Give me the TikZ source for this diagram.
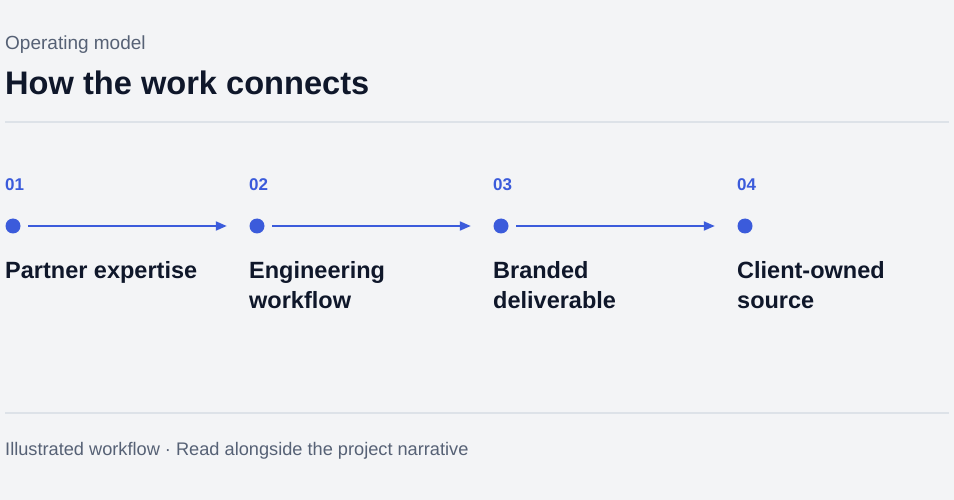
\documentclass[tikz,border=0pt]{standalone}
\usepackage{fontspec}
\setmainfont{Liberation Sans}
\usetikzlibrary{arrows.meta, positioning}
\definecolor{pagebg}{HTML}{F3F4F6}
\definecolor{rulegray}{HTML}{DDE2E8}
\definecolor{ink}{HTML}{0F172A}
\definecolor{muted}{HTML}{566175}
\definecolor{accent}{HTML}{3B5BDB}

\begin{document}
\begin{tikzpicture}[x=1pt, y=-1pt, >={Triangle[length=11pt,width=9pt]},
    txt/.style={inner sep=0pt, anchor=base west},
    stepnum/.style={txt, font=\fontsize{17}{20}\selectfont\bfseries, text=accent},
    steplbl/.style={inner sep=0pt, anchor=north west, font=\fontsize{23.5}{30}\selectfont\bfseries, text=ink, align=left},
    dot/.style={circle, fill=accent, inner sep=0pt, minimum size=15pt},
    rule/.style={rulegray, line width=2pt}]
\fill[pagebg] (0,0) rectangle (954,500);
\useasboundingbox (0,0) rectangle (954,500);

% header
\node[txt, font=\fontsize{19}{22}\selectfont, text=muted] (kicker) at (5,50) {Operating model};
\node[txt, font=\fontsize{32.6}{38}\selectfont\bfseries, text=ink] (title) at (5,95) {How the work connects};
\draw[rule] (5,122) -- (949,122);

% steps
\foreach \i/\lbl in {1/Partner expertise, 2/Engineering\\workflow, 3/Branded\\deliverable, 4/Client-owned\\source}{
  \node[stepnum] (n\i) at ({5+244*(\i-1)},190) {0\i};
  \node[dot] (d\i) at ({13+244*(\i-1)},226) {};
  \node[steplbl] (l\i) at ({5+244*(\i-1)},261) {\lbl};
}
\foreach \a/\b in {1/2, 2/3, 3/4}
  \draw[->, accent, line width=2pt, shorten <=7.5pt, shorten >=22.5pt] (d\a) -- (d\b);

% footer
\draw[rule] (5,413) -- (949,413);
\node[txt, font=\fontsize{18.2}{22}\selectfont, text=muted] (foot) at (5,455) {Illustrated workflow · Read alongside the project narrative};
\end{tikzpicture}
\end{document}
